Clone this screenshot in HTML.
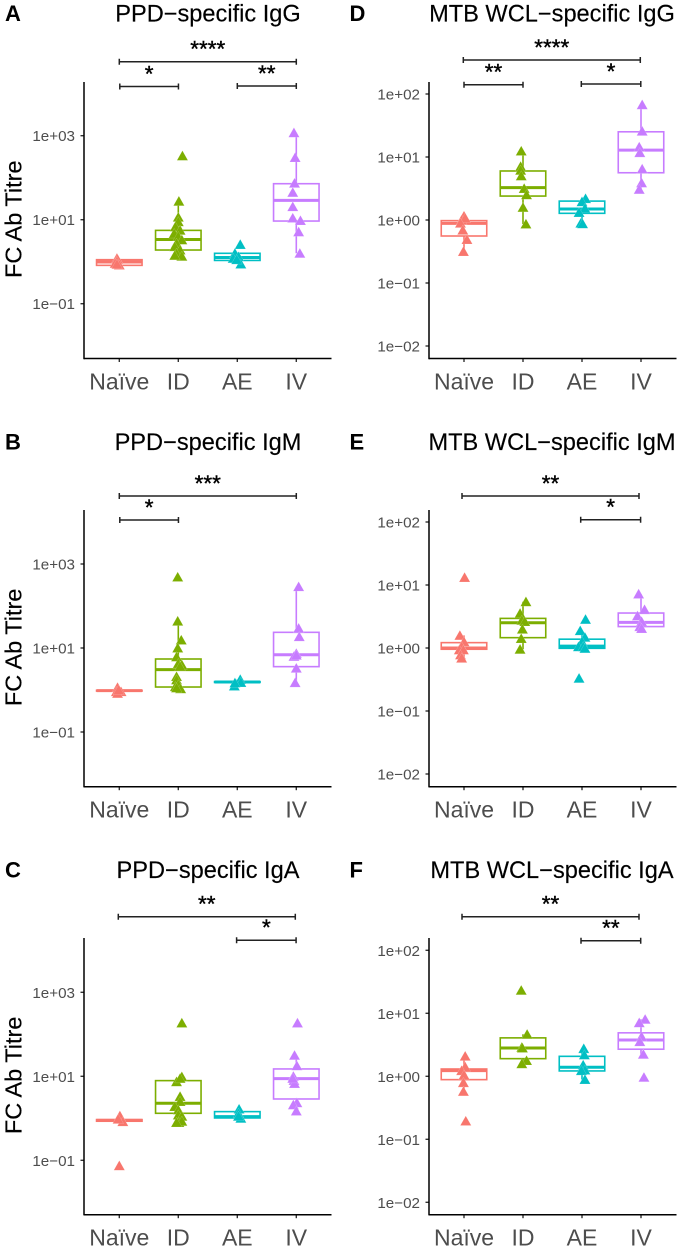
<!DOCTYPE html>
<html lang="en">
<head>
<meta charset="utf-8">
<title>FC Ab Titre panels</title>
<style>
html,body{margin:0;padding:0;background:#fff;}
#figure{display:block;width:681px;height:1251px;font-family:"Liberation Sans",Arial,sans-serif;}
</style>
</head>
<body>
<svg id="figure" xmlns="http://www.w3.org/2000/svg" width="681" height="1251" viewBox="0 0 681 1251"></svg>
<script>
// Shared categories and colours
const groups = ['Naïve', 'ID', 'AE', 'IV'];
const groupColors = ['#F8766D', '#7CAE00', '#00BFC4', '#C77CFF'];
const ppdTicks = [3, 1, -1];
const mtbTicks = [2, 1, 0, -1, -2];
const ppdTickLabels = ['1e+03', '1e+01', '1e−01'];
const mtbTickLabels = ['1e+02', '1e+01', '1e+00', '1e−01', '1e−02'];
const yAxisTitle = 'FC Ab Titre';

// All values are log10(titre). Jitter is in category widths.
const panelAValues = [
  [.08, .056, 0, -.04, -.08, -.06],
  [2.52, 1.44, 1.06, .95, .83, .75, .67, .6, .52, .44, .36, .28, .2, .13, .15],
  [.41, .2, .08, .12, -.056, .05],
  [3.07, 2.48, 1.87, 1.65, 1.31, 1.04, .98, .71, .2]
];
const panelAJitter = [
  [-.04, -.03, -.04, -.07, 0, -.04],
  [.07, .01, 0, 0, -.05, .03, -.07, 0, .06, -.03, -.06, .03, -.03, .06, -.06],
  [.05, -.04, -.07, .02, .06, -.01],
  [-.04, -.02, -.03, -.06, -.06, -.06, .07, .04, .06]
];
const panelABoxes = [[-.087, -.008, .048], [.278, .53, .746], [.03, .1, .2], [.968, 1.46, 1.857]];
const panelAWhiskers = [[-.08, .08], [.13, 1.44], [-.056, .2], [.2, 3.07]];

const panelBValues = [
  [.06, -.04, -.04, -.08, 0],
  [2.69, 1.64, 1.19, 1, .79, .6, .63, .56, .32, .24, .08, .12, .03, .05],
  [.095, .25, .18, .17],
  [2.46, 1.47, 1.27, .87, .8, .83, .52, .175]
];
const panelBJitter = [
  [-.03, -.05, .03, -.03, -.01],
  [-.01, -.01, .05, -.01, -.03, .06, 0, .03, -.03, -.03, -.05, 0, .04, -.03],
  [-.05, .05, .06, -.04],
  [.04, .04, .05, 0, -.04, 0, 0, -.02]
];
const panelBBoxes = [[-.025, -.016, -.007], [.071, .484, .738], [.18, .19, .2], [.556, .84, 1.373]];
const panelBWhiskers = [[-.08, .06], [.03, 1.64], [.095, .25], [.175, 2.46]];

const panelCValues = [
  [.06, -.08, -.02, -1.13],
  [2.27, .99, .87, .95, .52, .4, .28, .2, .08, .05, -.1, -.07, -.1],
  [.22, .12, 0, .05],
  [2.27, 1.5, 1.25, 1, .9, .83, .95, .37, .32, .175]
];
const panelCJitter = [
  [.01, .06, -.02, 0],
  [.06, .06, -.03, .03, .03, .03, -.06, 0, 0, .06, .01, .06, -.03],
  [.03, .02, .06, .02],
  [.02, -.03, .01, -.05, -.04, -.03, -.06, .01, -.05, 0]
];
const panelCBoxes = [[-.07, -.048, -.03], [.119, .357, .897], [.008, .04, .159], [.46, .944, 1.175]];
const panelCWhiskers = [[-.08, .06], [-.1, .95], [0, .22], [.175, 1.5]];

const panelDValues = [
  [.063, 0, .03, -.05, -.16, -.31, -.5],
  [1.095, .85, .79, .7, .5, .4, .2, -.063],
  [.34, .29, .185, .12, -.05, -.06],
  [1.83, 1.41, 1.16, 1.07, .81, .59, .487]
];
const panelDJitter = [
  [0, -.04, .02, -.06, -.02, .05, -.01],
  [-.03, -.04, -.04, -.03, .02, .06, 0, .05],
  [.06, 0, .05, -.05, -.02, .01],
  [.02, .02, -.03, -.02, .02, .01, -.03]
];
const panelDBoxes = [[-.254, -.053, -.01], [.38, .513, .778], [.106, .175, .3], [.75, 1.11, 1.4]];
const panelDWhiskers = [[-.5, .063], [-.063, 1.095], [-.06, .34], [.487, 1.83]];

const panelEValues = [
  [1.12, .2, .1, .02, -.03, -.03, -.11, -.16],
  [.735, .55, .44, .42, .3, .15, -.02],
  [.455, .275, .17, .1, .02, .02, -.005, -.48],
  [.857, .61, .51, .42, .34, .31]
];
const panelEJitter = [
  [.01, -.07, 0, -.04, -.08, -.01, -.06, -.04],
  [.05, -.05, -.02, .03, -.01, -.03, -.05],
  [.06, -.03, .05, 0, -.06, .02, .05, -.05],
  [-.04, .06, -.06, .01, -.02, .01]
];
const panelEBoxes = [[-.02, 0, .085], [.164, .4, .47], [-.005, .03, .14], [.34, .407, .555]];
const panelEWhiskers = [[-.16, .2], [-.02, .735], [-.005, .275], [.31, .857]];

const panelFValues = [
  [.32, .15, .09, .02, -.1, -.24, -.71],
  [1.365, .667, .46, .45, .25, .2],
  [.44, .34, .18, .1, .09, -.05],
  [.905, .85, .63, .55, .35, -.016]
];
const panelFJitter = [
  [.02, .02, -.04, 0, -.01, -.01, .03],
  [-.03, .07, -.02, -.01, .06, -.02],
  [.03, .04, .02, .05, -.01, .05],
  [.07, -.03, .01, -.02, .04, .05]
];
const panelFBoxes = [[-.053, .09, .116], [.28, .45, .61], [.085, .143, .317], [.43, .577, .69]];
const panelFWhiskers = [[-.24, .32], [.2, .667], [-.05, .44], [.35, .905]];

// Significance brackets: from group index, to group index, label
const panelASig = [[0, 3, '****'], [0, 1, '*'], [2, 3, '**']];
const panelBSig = [[0, 3, '***'], [0, 1, '*']];
const panelCSig = [[0, 3, '**'], [2, 3, '*']];
const panelDSig = [[0, 3, '****'], [0, 1, '**'], [2, 3, '*']];
const panelESig = [[0, 3, '**'], [2, 3, '*']];
const panelFSig = [[0, 3, '**'], [2, 3, '**']];

// Panel frames (layout only)
const panels = [
  {id:'a', letter:'A', title:'PPD−specific IgG', letterX:5, titleX:208, baseline:21.7, axisX:84, firstX:119.3, top:82, bottom:358.5, refTick:1, refY:219.7, decade:42, ticks:ppdTicks, tickLabels:ppdTickLabels, yTitle:true, values:panelAValues, jitter:panelAJitter, boxes:panelABoxes, whiskers:panelAWhiskers, sig:panelASig, sigY:[61.7, 86.5, 86], sigDx:[0, .5, 0]},
  {id:'b', letter:'B', title:'PPD−specific IgM', letterX:5, titleX:208, baseline:450, axisX:84, firstX:119.3, top:510, bottom:786.7, refTick:1, refY:648, decade:42, ticks:ppdTicks, tickLabels:ppdTickLabels, yTitle:true, values:panelBValues, jitter:panelBJitter, boxes:panelBBoxes, whiskers:panelBWhiskers, sig:panelBSig, sigY:[496, 520], sigDx:[0, .5]},
  {id:'c', letter:'C', title:'PPD−specific IgA', letterX:5, titleX:208, baseline:878, axisX:84, firstX:119.3, top:938, bottom:1214.7, refTick:1, refY:1076.3, decade:42, ticks:ppdTicks, tickLabels:ppdTickLabels, yTitle:true, values:panelCValues, jitter:panelCJitter, boxes:panelCBoxes, whiskers:panelCWhiskers, sig:panelCSig, sigY:[916.7, 940.3], sigDx:[-1, -.7]},
  {id:'d', letter:'D', title:'MTB WCL−specific IgG', letterX:349.5, titleX:552, baseline:21.7, axisX:429, firstX:464, top:82, bottom:358.5, refTick:0, refY:220, decade:63, ticks:mtbTicks, tickLabels:mtbTickLabels, yTitle:false, values:panelDValues, jitter:panelDJitter, boxes:panelDBoxes, whiskers:panelDWhiskers, sig:panelDSig, sigY:[60, 84.7, 84], sigDx:[-.7, 0, -.7]},
  {id:'e', letter:'E', title:'MTB WCL−specific IgM', letterX:349.5, titleX:552, baseline:450, axisX:429, firstX:464, top:510, bottom:786.7, refTick:0, refY:648, decade:63, ticks:mtbTicks, tickLabels:mtbTickLabels, yTitle:false, values:panelEValues, jitter:panelEJitter, boxes:panelEBoxes, whiskers:panelEWhiskers, sig:panelESig, sigY:[496, 519.7], sigDx:[-2, -1.3]},
  {id:'f', letter:'F', title:'MTB WCL−specific IgA', letterX:349.5, titleX:552, baseline:878, axisX:429, firstX:464, top:938, bottom:1214.7, refTick:0, refY:1076.3, decade:63, ticks:mtbTicks, tickLabels:mtbTickLabels, yTitle:false, values:panelFValues, jitter:panelFJitter, boxes:panelFBoxes, whiskers:panelFWhiskers, sig:panelFSig, sigY:[916.7, 940.7], sigDx:[-2, -1]}
];

const SVG_NS = 'http://www.w3.org/2000/svg';
const CATEGORY_STEP = 59;
const BOX_WIDTH = 45.5;
const figure = document.getElementById('figure');

function make(parent, tag, attrs, text) {
  const el = document.createElementNS(SVG_NS, tag);
  for (const key in attrs) el.setAttribute(key, attrs[key]);
  if (text !== undefined) el.textContent = text;
  parent.appendChild(el);
  return el;
}

function drawPanel(p) {
  const xScale = (groupIndex, jitter) => p.firstX + (groupIndex + (jitter || 0)) * CATEGORY_STEP;
  const yScale = (logValue) => p.refY - (logValue - p.refTick) * p.decade;

  const g = make(figure, 'g', {});
  
  

  const letter = make(g, 'text', {x:p.letterX, y:p.baseline - .5, 'font-size':22, 'font-weight':'bold', fill:'#000'}, p.letter);
  
  

  const title = make(g, 'text', {x:p.titleX, y:p.baseline, 'font-size':23.6, 'text-anchor':'middle', fill:'#000', stroke:'#000', 'stroke-width':.15}, p.title);
  
  

  if (p.yTitle) {
    const cy = (p.top + p.bottom) / 2 - 1;
    const yTitleEl = make(g, 'text', {x:21.7, y:cy, 'font-size':23.5, 'text-anchor':'middle', fill:'#000', stroke:'#000', 'stroke-width':.15, transform:'rotate(-90 21.7 ' + cy + ')'}, yAxisTitle);
    
    
  }

  // Y axis ticks and labels
  p.ticks.forEach((tick, i) => {
    const y = yScale(tick);
    const tickMark = make(g, 'line', {x1:p.axisX - 3.5, x2:p.axisX, y1:y, y2:y, stroke:'#333', 'stroke-width':1.4});
    
    
    const label = make(g, 'text', {x:p.axisX - 9, y:y + 5.5, 'font-size':15.2, 'text-anchor':'end', fill:'#4d4d4d'}, p.tickLabels[i]);
    
    
  });

  // X axis ticks and labels
  groups.forEach((name, i) => {
    const x = xScale(i);
    const tickMark = make(g, 'line', {x1:x, x2:x, y1:p.bottom, y2:p.bottom + 3.5, stroke:'#333', 'stroke-width':1.4});
    
    
    const label = make(g, 'text', {x:x, y:p.bottom + 30.8, 'font-size':23, 'text-anchor':'middle', fill:'#4d4d4d'}, name);
    
    
  });

  // Box plots
  groups.forEach((name, i) => {
    const color = groupColors[i];
    const x = xScale(i);
    const [q1, med, q3] = p.boxes[i];
    const [lo, hi] = p.whiskers[i];
    const whisker = make(g, 'path', {d:'M' + x + ' ' + yScale(q3) + 'V' + yScale(hi) + 'M' + x + ' ' + yScale(q1) + 'V' + yScale(lo), stroke:color, 'stroke-width':1.6, fill:'none'});
    
    
    const box = make(g, 'rect', {x:x - BOX_WIDTH / 2, y:yScale(q3), width:BOX_WIDTH, height:yScale(q1) - yScale(q3), fill:'#fff', 'fill-opacity':0, stroke:color, 'stroke-width':1.6});
    
    
    const median = make(g, 'line', {x1:x - BOX_WIDTH / 2, x2:x + BOX_WIDTH / 2, y1:yScale(med), y2:yScale(med), stroke:color, 'stroke-width':3});
    
    
  });

  // Points
  groups.forEach((name, i) => {
    p.values[i].forEach((value, j) => {
      const cx = xScale(i, p.jitter[i][j]);
      const cy = yScale(value);
      const pts = [[cx, cy - 5.2], [cx + 5.5, cy + 4.5], [cx - 5.5, cy + 4.5]].map(q => q.join(',')).join(' ');
      const point = make(g, 'polygon', {points:pts, fill:groupColors[i], stroke:'#fff', 'stroke-opacity':.35, 'stroke-width':.4});
      
      
    });
  });

  // Axis lines
  const axisY = make(g, 'line', {x1:p.axisX, x2:p.axisX, y1:p.top, y2:p.bottom + .7, stroke:'#000', 'stroke-width':1.5});
  
  
  const axisX = make(g, 'line', {x1:p.axisX, x2:p.axisX + 247.5, y1:p.bottom, y2:p.bottom, stroke:'#000', 'stroke-width':1.5});
  
  

  // Significance brackets
  p.sig.forEach((s, i) => {
    const x1 = xScale(s[0]) + p.sigDx[i];
    const x2 = xScale(s[1]) + p.sigDx[i] * (i === 0 ? 1 : .3);
    const y = p.sigY[i];
    const bracket = make(g, 'path', {d:'M' + x1 + ' ' + (y - 3) + 'V' + (y + 3) + 'M' + x1 + ' ' + y + 'H' + x2 + 'M' + x2 + ' ' + (y - 3) + 'V' + (y + 3), stroke:'#222', 'stroke-width':1.5, fill:'none'});
    
    
    const stars = make(g, 'text', {x:(x1 + x2) / 2, y:y - 5.2, 'font-size':22.5, 'text-anchor':'middle', fill:'#000', stroke:'#000', 'stroke-width':.4}, s[2]);
    
    
  });
}

panels.forEach(drawPanel);
</script>
</body>
</html>
